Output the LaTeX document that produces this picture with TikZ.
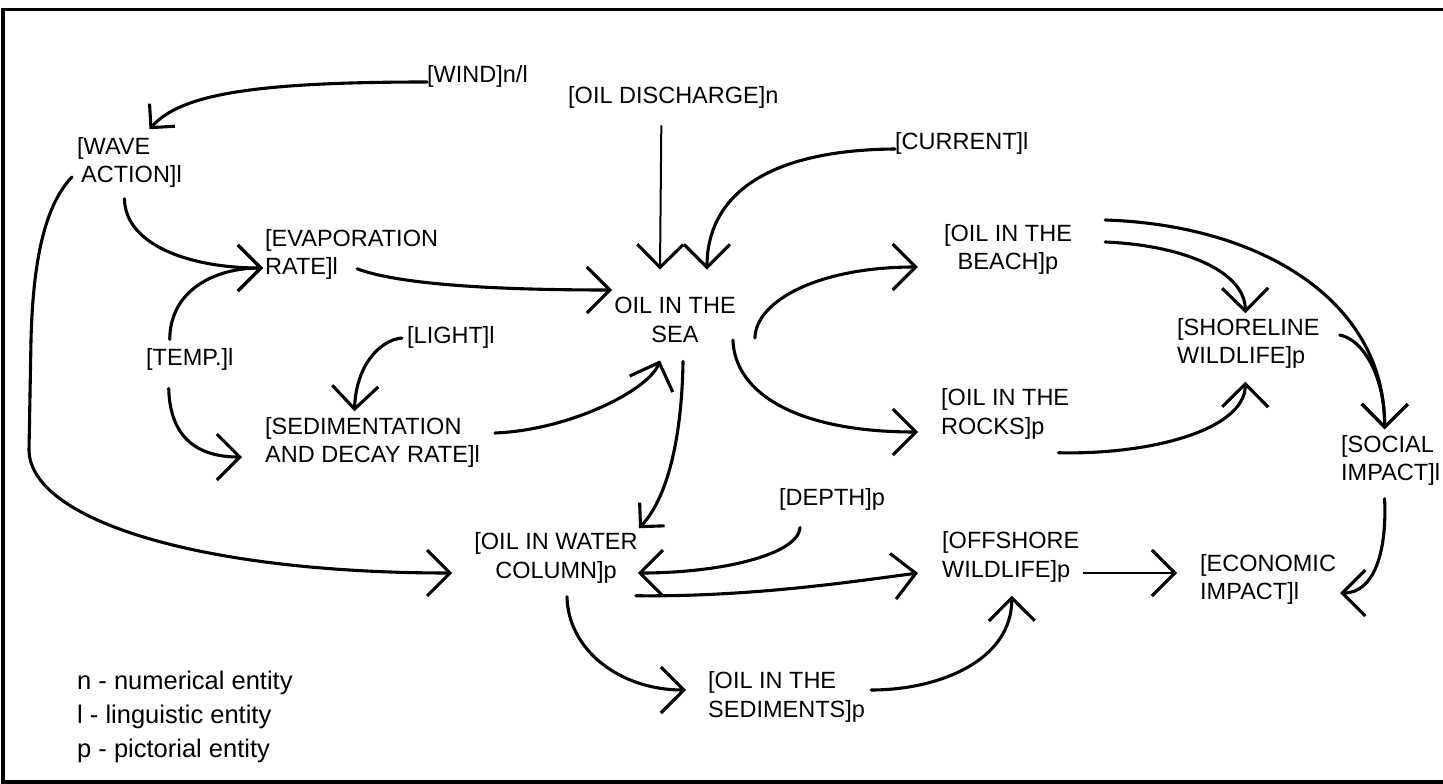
\documentclass[tikz,border=0pt]{standalone}
\usepackage{fontspec}
\setmainfont{Liberation Sans}
\usetikzlibrary{arrows.meta}
\tikzset{
  lbl/.style={inner sep=0pt, font=\fontsize{23.5}{28.5}\selectfont,
    execute at begin node=\strut, execute at end node=\strut},
  lblL/.style={lbl, align=left, anchor=west},
  lblC/.style={lbl, align=center, anchor=center},
  conn/.style={line width=3.1pt, line cap=round, -{Straight Barb[length=23pt,width=46pt,line join=miter]}},
  connS/.style={line width=3.1pt, line cap=round, -{Straight Barb[length=17pt,width=34pt,line join=miter]}},
  thin/.style={line width=2pt, -{Straight Barb[length=23pt,width=46pt,line join=miter,line width=3.1pt]}},
  frame/.style={line width=3.5pt},
  legend/.style={inner sep=0pt, align=left, anchor=west, font=\fontsize{25.5}{34}\selectfont,
    execute at begin node=\strut, execute at end node=\strut},
}
\begin{document}
\begin{tikzpicture}[x=1pt,y=-1pt]
\useasboundingbox (0,0) rectangle (1443,784);
\draw[frame] (3,9.5) rectangle (1470,782);

% nodes
\node[lblL] (wind) at (427,77) {[WIND]n/l};
\node[lblL] (disch) at (568,98) {[OIL DISCHARGE]n};
\node[lblL] (current) at (895,144) {[CURRENT]l};
\node[lblL] (wave) at (77,164.5) {[WAVE\\\hspace{4pt}ACTION]l};
\node[lblL] (evap) at (265,256.5) {[EVAPORATION\\RATE]l};
\node[lblC] (sea) at (675,324) {OIL IN THE\\SEA};
\node[lblC] (beach) at (1008,251.5) {[OIL IN THE\\BEACH]p};
\node[lblL] (shore) at (1177,345.5) {[SHORELINE\\WILDLIFE]p};
\node[lblL] (temp) at (146,360) {[TEMP.]l};
\node[lblL] (light) at (407,338) {[LIGHT]l};
\node[lblL] (sed) at (265,444.5) {[SEDIMENTATION\\AND DECAY RATE]l};
\node[lblL] (rocks) at (941,416) {[OIL IN THE\\ROCKS]p};
\node[lblL] (social) at (1341,462.5) {[SOCIAL\\IMPACT]l};
\node[lblL] (depth) at (779,500) {[DEPTH]p};
\node[lblC] (water) at (556,560) {[OIL IN WATER\\COLUMN]p};
\node[lblL] (offshore) at (942,559) {[OFFSHORE\\WILDLIFE]p};
\node[lblL] (econ) at (1200,581.5) {[ECONOMIC\\IMPACT]l};
\node[lblL] (sedim) at (708,699) {[OIL IN THE\\SEDIMENTS]p};
\node[legend] (leg) at (77,719) {n - numerical entity\\l - linguistic entity\\p - pictorial entity};

% connectors
\draw[connS] ([shift={(0,5)}]wind.west) .. controls (250,82) and (180,95) .. ([shift={(20,-8)}]wave.north);
\draw[thin] ([shift={(-12,13)}]disch.south) -- ([shift={(-15,-27.5)}]sea.north);
\draw[conn] ([shift={(0,5)}]current.west) .. controls (760,150) and (707,200) .. ([shift={(32,-27.5)}]sea.north);
\draw[conn] ([shift={(-5,7)}]wave.south) .. controls (125,245) and (190,268) .. ([shift={(-2,11.5)}]evap.west);
\draw[conn] ([shift={(-20,-6)}]temp.north) .. controls (170,290) and (215,268) .. ([shift={(-2,11.5)}]evap.west);
\draw[conn] ([shift={(-21,14)}]temp.south) .. controls (170,440) and (200,457) .. ([shift={(-23,12.5)}]sed.west);
\draw[conn] ([shift={(-5,0)}]light.west) .. controls (380,340) and (356,365) .. ([shift={(-18,-6)}]sed.north);
\draw[conn] ([shift={(92,-15)}]evap.south west) .. controls (400,285) and (500,290) .. ([shift={(-2,-34)}]sea.west);
\draw[conn] ([shift={(15,-11.5)}]sed.east) .. controls (570,430) and (649,390) .. ([shift={(-15,9.5)}]sea.south);
\draw[connS] ([shift={(8,10.5)}]sea.south) .. controls (682,430) and (670,495) .. ([shift={(83,-4.5)}]water.north);
\draw[conn] ([shift={(19,14)}]sea.east) .. controls (756,300) and (820,267) .. ([shift={(-26,15.5)}]beach.west);
\draw[conn] ([shift={(-3,16)}]sea.east) .. controls (735,395) and (800,432) .. ([shift={(-23,16)}]rocks.west);
\draw[conn] ([shift={(33,-9.5)}]beach.east) .. controls (1180,245) and (1245,270) .. ([shift={(-3,-5)}]shore.north);
\draw[conn] ([shift={(33,-31.5)}]beach.east) .. controls (1260,225) and (1385,300) .. ([shift={(-6,-6)}]social.north);
\draw[conn] ([shift={(20,-10.5)}]shore.east) .. controls (1365,340) and (1385,380) .. ([shift={(-6,-6)}]social.north);
\draw[conn] ([shift={(-11,9.5)}]rocks.south east) .. controls (1150,455) and (1245,430) .. ([shift={(-3,9)}]shore.south);
\draw[conn] ([shift={(-6,9)}]social.south) .. controls (1387,550) and (1375,593) .. ([shift={(4,11.5)}]econ.east);
\draw[thin] ([shift={(3,14)}]offshore.east) -- ([shift={(-23,-8.5)}]econ.west);
\draw[conn] ([shift={(-32,13)}]depth.south) .. controls (798,555) and (720,573) .. ([shift={(0,13)}]water.east);
\draw[conn] ([shift={(-2,8.5)}]water.south east) .. controls (750,597) and (850,582) .. ([shift={(-24,14)}]offshore.west);
\draw[conn] ([shift={(-5,12.5)}]wave.west) .. controls (45,205) and (33,260) .. (31,340) -- (29,450) .. controls (30,520) and (200,573) .. ([shift={(-22,13)}]water.west);
\draw[conn] ([shift={(11,9.5)}]water.south) .. controls (568,650) and (620,690) .. ([shift={(-22,-9)}]sedim.west);
\draw[conn] ([shift={(6,-9)}]sedim.east) .. controls (940,690) and (1012,660) .. ([shift={(1,9.5)}]offshore.south);
\end{tikzpicture}
\end{document}
